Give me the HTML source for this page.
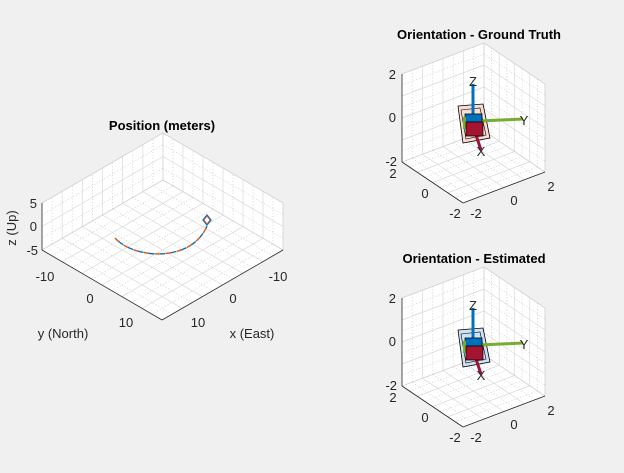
<!DOCTYPE html>
<html><head><meta charset="utf-8"><style>
body{margin:0;background:#f0f0f0;}
svg{display:block;font-family:"Liberation Sans",sans-serif;}
.t{font-size:13px;fill:#262626}
.ti{font-size:13px;font-weight:bold;fill:#000}
</style></head><body>
<svg id="s" width="624" height="473" viewBox="0 0 624 473" xmlns="http://www.w3.org/2000/svg">
<rect width="624" height="473" fill="#f0f0f0"/>
<g id="g"></g>
<text class="ti" x="162" y="130" text-anchor="middle">Position (meters)</text>
<text class="t" x="37" y="208" text-anchor="end">5</text>
<text class="t" x="37" y="231" text-anchor="end">0</text>
<text class="t" x="38" y="255" text-anchor="end">-5</text>
<text class="t" transform="translate(16,228) rotate(-90)" text-anchor="middle">z (Up)</text>
<text class="t" x="45" y="281" text-anchor="middle">-10</text>
<text class="t" x="90" y="303" text-anchor="middle">0</text>
<text class="t" x="126" y="327" text-anchor="middle">10</text>
<text class="t" x="278" y="281" text-anchor="middle">-10</text>
<text class="t" x="233" y="303" text-anchor="middle">0</text>
<text class="t" x="198" y="327" text-anchor="middle">10</text>
<text class="t" x="63" y="338" text-anchor="middle">y (North)</text>
<text class="t" x="252" y="338" text-anchor="middle">x (East)</text>
<g>
<text class="ti" x="479" y="39" text-anchor="middle">Orientation - Ground Truth</text>
<text class="t" x="396" y="79" text-anchor="end">2</text>
<text class="t" x="396" y="122" text-anchor="end">0</text>
<text class="t" x="397" y="166" text-anchor="end">-2</text>
<text class="t" x="393" y="178" text-anchor="middle">2</text>
<text class="t" x="425" y="198" text-anchor="middle">0</text>
<text class="t" x="455" y="218" text-anchor="middle">-2</text>
<text class="t" x="476" y="218" text-anchor="middle">-2</text>
<text class="t" x="514" y="205" text-anchor="middle">0</text>
<text class="t" x="551" y="191" text-anchor="middle">2</text>
</g>
<g transform="translate(0,224)">
<text class="ti" x="474" y="39" text-anchor="middle">Orientation - Estimated</text>
<text class="t" x="396" y="79" text-anchor="end">2</text>
<text class="t" x="396" y="122" text-anchor="end">0</text>
<text class="t" x="397" y="166" text-anchor="end">-2</text>
<text class="t" x="393" y="178" text-anchor="middle">2</text>
<text class="t" x="425" y="198" text-anchor="middle">0</text>
<text class="t" x="455" y="218" text-anchor="middle">-2</text>
<text class="t" x="476" y="218" text-anchor="middle">-2</text>
<text class="t" x="514" y="205" text-anchor="middle">0</text>
<text class="t" x="551" y="191" text-anchor="middle">2</text>
</g>
</svg>
<script>
var NS="http://www.w3.org/2000/svg",G=document.getElementById('g');
function el(n,a,p){var e=document.createElementNS(NS,n);for(var k in a)e.setAttribute(k,a[k]);(p||G).appendChild(e);return e;}
function L(a,b,c,w,d){var o={x1:a[0],y1:a[1],x2:b[0],y2:b[1],stroke:c,'stroke-width':w||0.7};if(d)o['stroke-dasharray']=d;el('line',o);}
function lerp(a,b,t){return[a[0]+(b[0]-a[0])*t,a[1]+(b[1]-a[1])*t];}
function up(p,h){return[p[0],p[1]-h];}
function box(Lb,Fb,Rb,h,Mx,Mz,sub){
 var Bb=[Lb[0]+Rb[0]-Fb[0],Lb[1]+Rb[1]-Fb[1]];
 var Lt=up(Lb,h),Bt=up(Bb,h),Rt=up(Rb,h);
 function poly(pts){el('polygon',{points:pts.map(function(p){return p.join(',')}).join(' '),fill:'#fff',stroke:'none'});}
 poly([Lb,Fb,Rb,Bb]);poly([Lb,Bb,Bt,Lt]);poly([Bb,Rb,Rt,Bt]);
 var N=Mx*sub,i,t,maj,c,d;
 for(i=1;i<N;i++){t=i/N;maj=i%sub==0;c=maj?'#d8d8d8':'#c8c8c8';d=maj?null:'1,2';
  L(lerp(Lb,Fb,t),lerp(Bb,Rb,t),c,0.7,d);
  L(lerp(Fb,Rb,t),lerp(Lb,Bb,t),c,0.7,d);
  L(lerp(Lb,Bb,t),lerp(Lt,Bt,t),c,0.7,d);
  L(lerp(Bb,Rb,t),lerp(Bt,Rt,t),c,0.7,d);
 }
 var Nz=Mz*sub;
 for(i=1;i<Nz;i++){t=i/Nz;maj=i%sub==0;c=maj?'#d8d8d8':'#c8c8c8';d=maj?null:'1,2';
  var a=up(Lb,h*t),b=up(Bb,h*t),r=up(Rb,h*t);L(a,b,c,0.7,d);L(b,r,c,0.7,d);}
 L(Lt,Bt,'#d0d0d0',0.8);L(Bt,Rt,'#d0d0d0',0.8);L(Bb,Bt,'#d0d0d0',0.8);L(Rb,Rt,'#d0d0d0',0.8);
 L(Lb,Bb,'#d0d0d0',0.8);L(Bb,Rb,'#d0d0d0',0.8);
 L(Lb,Lt,'#262626',0.8);L(Lb,Fb,'#262626',0.8);L(Fb,Rb,'#262626',0.8);
}
box([42,250],[162,320],[283,250],47,6,2,2);
box([402,162],[463,203],[545,172],88,4,4,2);
box([402,386],[463,427],[545,396],88,4,4,2);
el('path',{d:'M115,238 C135,260 192,262 207,226',fill:'none',stroke:'#D95319','stroke-width':1.4,'stroke-dasharray':'6,5'});
el('path',{d:'M115,238 C135,260 192,262 207,226',fill:'none',stroke:'#0072BD','stroke-width':1.4,'stroke-dasharray':'5,6','stroke-dashoffset':'5.5'});
el('polygon',{points:'207,215 211,220 207,225 203,220',fill:'none',stroke:'#0072BD','stroke-width':1.3});
el('polygon',{points:'207,216 210,220 207,224 204,220',fill:'none',stroke:'#D95319','stroke-width':0.8});
function cube(dy,fill){
 var g=el('g',{transform:'translate(0,'+dy+')'});
 el('polygon',{points:'458,106 483,104 490,138 463,143',fill:fill,stroke:'#000','stroke-width':0.8},g);
 el('polygon',{points:'461,110 480,108 486,135 466,139',fill:'none',stroke:'#000','stroke-width':0.6},g);
 el('line',{x1:473,y1:118,x2:473,y2:84,stroke:'#0072BD','stroke-width':3},g);
 el('line',{x1:480,y1:121,x2:523,y2:119,stroke:'#77AC30','stroke-width':3},g);
 el('polygon',{points:'465,114 482,114 482,122 465,122',fill:'#0072BD',stroke:'#000','stroke-width':0.7},g);
 el('rect',{x:463,y:117,width:3,height:12,fill:'#77AC30'},g);
 el('line',{x1:476,y1:135,x2:481,y2:150,stroke:'#A2142F','stroke-width':3},g);
 el('polygon',{points:'466,122 483,122 483,136 466,136',fill:'#A2142F',stroke:'#000','stroke-width':0.7},g);
 var a=el('text',{x:473,y:86,'text-anchor':'middle','class':'t'},g);a.textContent='Z';
 a=el('text',{x:524,y:125,'text-anchor':'middle','class':'t'},g);a.textContent='Y';
 a=el('text',{x:481,y:156,'text-anchor':'middle','class':'t'},g);a.textContent='X';
}
cube(0,'#f8ddd3');cube(224,'#cfe2f3');
</script>
</body></html>
